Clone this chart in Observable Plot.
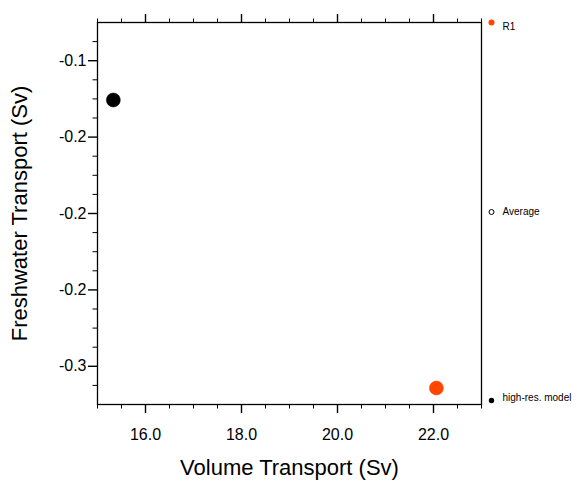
<!DOCTYPE html>
<html>
<head>
<meta charset="utf-8">
<script src="https://cdn.jsdelivr.net/npm/d3@7"></script>
<script src="https://cdn.jsdelivr.net/npm/@observablehq/plot@0.6"></script>
<style>
  html, body { margin: 0; padding: 0; background: white; }
  #chart svg { display: block; }
</style>
</head>
<body>
<div id="chart"></div>
<script>
// ---- data ----
const seriesNames = ["high-res. model", "R1"];
const volumeTransport = [15.33, 22.06];
const freshwaterTransport = [-0.1257, -0.3142];
const seriesColors = ["#000000", "#ff4500"];

const xMajorTicks = [16, 18, 20, 22];
const xMajorLabels = ["16.0", "18.0", "20.0", "22.0"];
const xMinorTicks = [15, 15.5, 16.5, 17, 17.5, 18.5, 19, 19.5, 20.5, 21, 21.5, 22.5, 23];
const yMajorTicks = [-0.10, -0.15, -0.20, -0.25, -0.30];
const yMajorLabels = ["-0.1", "-0.2", "-0.2", "-0.2", "-0.3"];
const yMinorTicks = [-0.0875, -0.1125, -0.125, -0.1375, -0.1625, -0.175, -0.1875,
  -0.2125, -0.225, -0.2375, -0.2625, -0.275, -0.2875, -0.3125];

const legendLabels = ["R1", "Average", "high-res. model"];
const legendColors = ["#ff4500", "#000000", "#000000"];

const points = seriesNames.map((name, i) => ({
  name, x: volumeTransport[i], y: freshwaterTransport[i], color: seriesColors[i]
}));

const xLab = new Map(xMajorTicks.map((t, i) => [t.toFixed(2), xMajorLabels[i]]));
const yLab = new Map(yMajorTicks.map((t, i) => [t.toFixed(3), yMajorLabels[i]]));
const blank = () => "";
const font = "'Liberation Sans', Arial, Helvetica, sans-serif";

const chart = Plot.plot({
  width: 587,
  height: 486,
  marginLeft: 97,
  marginRight: 106,
  marginTop: 22,
  marginBottom: 82,
  style: { fontFamily: font, color: "black", background: "white", overflow: "visible" },
  x: { domain: [15, 23] },
  y: { domain: [-0.325, -0.075] },
  marks: [
    // bottom axis
    Plot.axisX({ anchor: "bottom", ticks: xMinorTicks, tickSize: 4.5, tickFormat: blank, label: null, strokeWidth: 1 }),
    Plot.axisX({ anchor: "bottom", ticks: xMajorTicks, tickSize: 9, tickPadding: 15, strokeWidth: 1.4,
      tickFormat: d => xLab.get(d.toFixed(2)), fontSize: 16,
      label: "Volume Transport (Sv)", labelAnchor: "center", labelArrow: "none", labelOffset: 70 }),
    // top axis (ticks only)
    Plot.axisX({ anchor: "top", ticks: xMinorTicks, tickSize: 4.5, tickFormat: blank, label: null, strokeWidth: 1 }),
    Plot.axisX({ anchor: "top", ticks: xMajorTicks, tickSize: 9, tickFormat: blank, label: null, strokeWidth: 1.4 }),
    // left axis
    Plot.axisY({ anchor: "left", ticks: yMinorTicks, tickSize: 4.5, tickFormat: blank, label: null, strokeWidth: 1 }),
    Plot.axisY({ anchor: "left", ticks: yMajorTicks, tickSize: 9, tickPadding: 2, strokeWidth: 1.4,
      tickFormat: d => yLab.get(d.toFixed(3)), fontSize: 16,
      label: "Freshwater Transport (Sv)", labelAnchor: "center", labelArrow: "none", labelOffset: 86 }),
    Plot.frame({ stroke: "black", strokeWidth: 1.3 }),
    // data points
    Plot.dot(points, { x: "x", y: "y", r: 7, fill: "color", stroke: "color", strokeWidth: 0.5 }),
    // legend (outside right)
    Plot.dot([legendLabels[0]], { frameAnchor: "top-right", dx: 10, r: 3, fill: legendColors[0], clip: false }),
    Plot.text([legendLabels[0]], { frameAnchor: "top-right", dx: 21, text: d => d, textAnchor: "start", fontSize: 10, fill: "black" }),
    Plot.dot([legendLabels[1]], { frameAnchor: "right", dx: 10, dy: -1.5, r: 2.5, fill: "none", stroke: legendColors[1], strokeWidth: 1 }),
    Plot.text([legendLabels[1]], { frameAnchor: "right", dx: 21, dy: -1.5, text: d => d, textAnchor: "start", fontSize: 10, fill: "black" }),
    Plot.dot([legendLabels[2]], { frameAnchor: "bottom-right", dx: 10, dy: -4, r: 2.7, fill: legendColors[2] }),
    Plot.text([legendLabels[2]], { frameAnchor: "bottom-right", dx: 21, dy: -4, text: d => d, textAnchor: "start", fontSize: 10, fill: "black" })
  ]
});

// axis label font size
chart.querySelectorAll("g[aria-label='x-axis label'] text, g[aria-label='y-axis label'] text")
  .forEach(t => t.setAttribute("font-size", "22"));
document.getElementById("chart").appendChild(chart);
</script>
</body>
</html>
